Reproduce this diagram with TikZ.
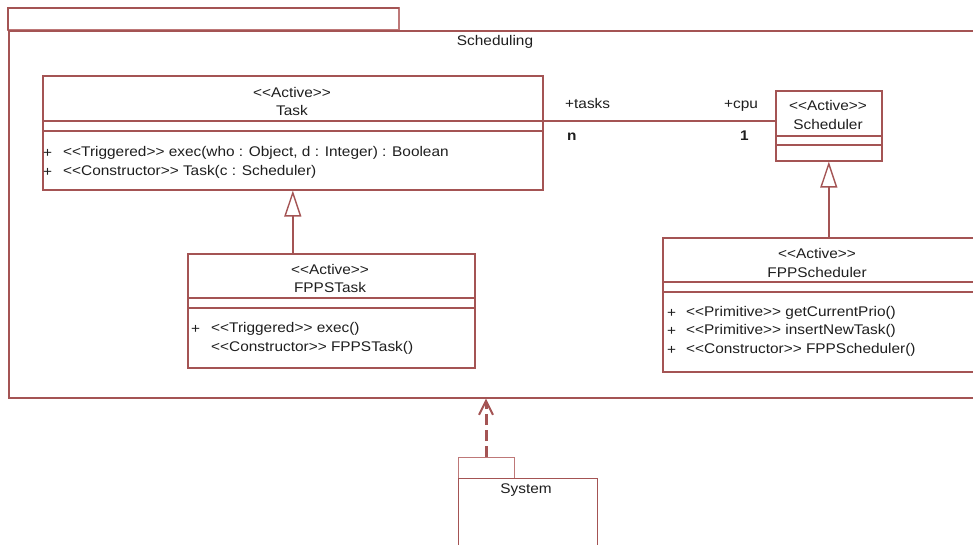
\documentclass[tikz,border=0pt]{standalone}
\usepackage{fontspec}
\usetikzlibrary{arrows.meta}
\newfontfamily\umlfont[FakeStretch=1.1]{Liberation Sans}
\definecolor{umlred}{RGB}{164,84,84}
\definecolor{umlthin}{RGB}{190,120,120}
\definecolor{umltext}{RGB}{30,30,30}
\tikzset{
  umlline/.style={draw=umlred, line width=1.6pt},
  thinline/.style={draw=umlthin, line width=1.1pt},
  classbox/.style={umlline, rectangle, anchor=north west, inner sep=0pt},
  lbl/.style={font=\umlfont\fontsize{14}{16}\selectfont, text=umltext, inner sep=0pt},
  gen/.style={umlline, -{Triangle[open, length=26pt, width=17pt, line width=1.4pt]}},
  dep/.style={draw=umlred, line width=3pt, dash pattern=on 11pt off 5pt,
              -{Straight Barb[length=14pt, width=14pt, line width=2pt]}}
}
\begin{document}
\begin{tikzpicture}[x=1pt, y=-1pt]
\useasboundingbox (0,0) rectangle (973,544);
\clip (0,0) rectangle (973,544);

% package Scheduling
\draw[thinline] (8,30) rectangle (399,8);
\node[classbox, minimum width=990pt, minimum height=367pt] (pkg) at (8,30) {};
\draw[umlline] (8,30) -- (8,8) -- (399,8);
\node[lbl] (pkgname) at (495,42) {Scheduling};

% class Task
\node[classbox, minimum width=500pt, minimum height=114pt] (task) at (42,75) {};
\draw[umlline] (42,121) -- (542,121);
\draw[umlline] (42,131) -- (542,131);
\node[lbl] (taskst) at (292,92) {<<Active>>};
\node[lbl] (taskname) at (292,110) {Task};
\node[lbl, anchor=west] (taskp1) at (43,153) {+};
\node[lbl, anchor=west] (taskop1) at (63,153) {<<Triggered>> exec(who : Object, d : Integer) : Boolean};
\node[lbl, anchor=west] (taskp2) at (43,172) {+};
\node[lbl, anchor=west] (taskop2) at (63,172) {<<Constructor>> Task(c : Scheduler)};

% class Scheduler
\node[classbox, minimum width=106pt, minimum height=70pt] (sched) at (775,90) {};
\draw[umlline] (775,136) -- (881,136);
\draw[umlline] (775,145) -- (881,145);
\node[lbl] (schedst) at (828,105) {<<Active>>};
\node[lbl] (schedname) at (828,124) {Scheduler};

% association Task -- Scheduler
\coordinate (assocA) at (542,121);
\coordinate (assocB) at (775,121);
\draw[umlline] (assocA) -- (assocB);
\node[lbl, anchor=west] (roletasks) at (565,103) {+tasks};
\node[lbl, anchor=west, font=\umlfont\bfseries\fontsize{14}{16}\selectfont] (multn) at (567,137) {n};
\node[lbl, anchor=west] (rolecpu) at (724,106) {+cpu};
\node[lbl, anchor=west, font=\umlfont\bfseries\fontsize{14}{16}\selectfont] (mult1) at (740,136) {1};

% class FPPSTask
\node[classbox, minimum width=287pt, minimum height=114pt] (fppstask) at (187,253) {};
\draw[umlline] (187,298) -- (474,298);
\draw[umlline] (187,308) -- (474,308);
\node[lbl] (fppsst) at (330,269) {<<Active>>};
\node[lbl] (fppsname) at (330,287) {FPPSTask};
\node[lbl, anchor=west] (fppsp1) at (191,329) {+};
\node[lbl, anchor=west] (fppsop1) at (211,329) {<<Triggered>> exec()};
\node[lbl, anchor=west] (fppsop2) at (211,348) {<<Constructor>> FPPSTask()};

% class FPPScheduler
\node[classbox, minimum width=320pt, minimum height=134pt] (fppsched) at (662,237) {};
\draw[umlline] (662,282) -- (982,282);
\draw[umlline] (662,292) -- (982,292);
\node[lbl] (fppschst) at (817,253) {<<Active>>};
\node[lbl] (fppschname) at (817,272) {FPPScheduler};
\node[lbl, anchor=west] (fppschp1) at (667,313) {+};
\node[lbl, anchor=west] (fppschop1) at (686,313) {<<Primitive>> getCurrentPrio()};
\node[lbl, anchor=west] (fppschp2) at (667,331) {+};
\node[lbl, anchor=west] (fppschop2) at (686,331) {<<Primitive>> insertNewTask()};
\node[lbl, anchor=west] (fppschp3) at (667,350) {+};
\node[lbl, anchor=west] (fppschop3) at (686,350) {<<Constructor>> FPPScheduler()};

% generalizations
\draw[gen] (fppstask.north -| task.south) -- (task.south);
\draw[gen] (fppsched.north -| sched.south) -- (sched.south);

% package System
\node[classbox, draw=umlthin, line width=1.2pt, minimum width=56pt, minimum height=21pt] (systab) at (458,457) {};
\node[classbox, line width=1.4pt, minimum width=139pt, minimum height=90pt] (sys) at (458,478) {};
\node[lbl] (sysname) at (526,490) {System};

% dependency System -> Scheduling
\coordinate (depstart) at (486,457);
\draw[dep] (depstart) -- (depstart |- pkg.south);
\end{tikzpicture}
\end{document}
